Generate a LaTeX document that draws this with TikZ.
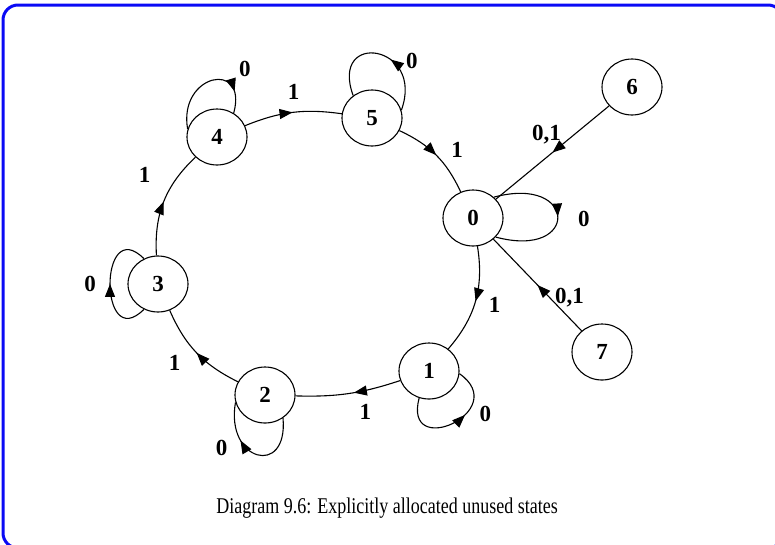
\documentclass[tikz,border=0pt]{standalone}
\usepackage{fontspec}
\setmainfont{Liberation Serif}
\newfontfamily\capfont[FakeStretch=0.8]{Liberation Serif}
\usetikzlibrary{arrows.meta,shapes.geometric,decorations.markings}
\definecolor{frm}{HTML}{0A0AF5}

\begin{document}
\begin{tikzpicture}[x=1pt,y=1pt,
  state/.style={draw,ellipse,minimum width=60pt,minimum height=56pt,inner sep=0pt,line width=1.1pt,font=\fontsize{23}{26}\selectfont\bfseries},
  lbl/.style={font=\fontsize{23}{26}\selectfont\bfseries,inner sep=0pt},
  edge/.style={line width=1.1pt},
  midarr/.style={postaction={decorate},decoration={markings,mark=at position #1 with {\arrow{Triangle[length=13pt,width=10pt]}}}},
  midarr/.default=0.5]
\useasboundingbox (0,0) rectangle (775,-544);
\clip (0,0) rectangle (775,-544);
\draw[frm,line width=3pt,rounded corners=15pt] (3,-5) rectangle (783,-548);

% states
\node[state] (s0) at (473,-218) {0};
\node[state] (s1) at (429,-371) {1};
\node[state] (s2) at (265,-395) {2};
\node[state] (s3) at (158,-284) {3};
\node[state] (s4) at (217,-137) {4};
\node[state] (s5) at (372,-118) {5};
\node[state] (s6) at (632,-87) {6};
\node[state] (s7) at (602,-352) {7};

% the ring
\draw[edge,midarr] (s4) to[bend left=15] node[lbl,xshift=1pt,yshift=20pt]{1} (s5);
\draw[edge,midarr] (s5) to[bend left=20] node[lbl,xshift=21pt,yshift=5pt]{1} (s0);
\draw[edge,midarr] (s0) to[bend left=25] node[lbl,xshift=19pt,yshift=-4pt]{1} (s1);
\draw[edge,midarr=0.45] (s1) to[bend left=10] node[lbl,pos=0.45,xshift=12pt,yshift=-19pt]{1} (s2);
\draw[edge,midarr] (s2) to[bend left=20] node[lbl,xshift=-22pt,yshift=-10pt]{1} (s3);
\draw[edge,midarr] (s3) to[bend left=25] node[lbl,xshift=-19pt,yshift=27pt]{1} (s4);

% unused states
\draw[edge,midarr] (s6) -- node[lbl,xshift=-6pt,yshift=18pt]{0,1} (s0);
\draw[edge,midarr] (s7) -- node[lbl,xshift=32pt,yshift=-13pt]{0,1} (s0);

% self loops
\draw[edge,midarr] (s0.45) to[out=15,in=-15,distance=87pt] node[lbl,xshift=26pt,yshift=-2pt]{0} (s0.-40);
\draw[edge,midarr=0.6] (s1.-110) to[out=-105,in=-35,distance=65pt] node[lbl,pos=0.6,xshift=22pt,yshift=2pt]{0} (s1.-5);
\draw[edge,midarr=0.66] (s2.-52) to[out=-85,in=-100,distance=60pt] node[lbl,pos=0.62,xshift=-26pt,yshift=1pt]{0} (s2.-166);
\draw[edge,midarr] (s3.-119) to[out=-135,in=135,distance=64pt] node[lbl,xshift=-20pt]{0} (s3.119);
\draw[edge,midarr=0.8] (s4.165) to[out=100,in=75,distance=56pt] node[lbl,pos=0.68,xshift=18pt,yshift=12pt]{0} (s4.55);
\draw[edge,midarr=0.42] (s5.15) to[out=70,in=110,distance=70pt] node[lbl,pos=0.42,xshift=26pt,yshift=-4pt]{0} (s5.130);

\node[font=\capfont\fontsize{22.5}{26}\selectfont,anchor=base] (cap) at (387,-513) {Diagram 9.6: Explicitly allocated unused states};
\end{tikzpicture}
\end{document}
